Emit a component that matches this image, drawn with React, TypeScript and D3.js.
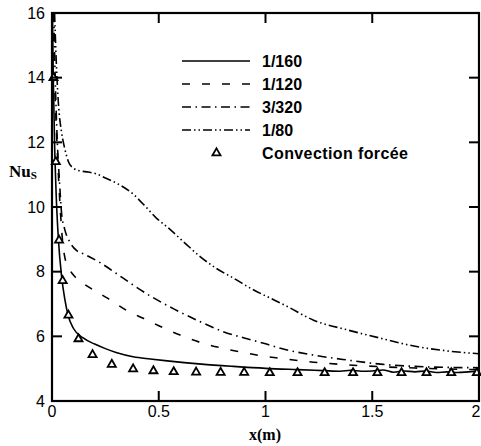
import React from "react";
import * as d3 from "d3";

type P = [number, number];

const xTicks = [0, 0.5, 1, 1.5, 2];
const xTickLabels = ["0", "0.5", "1", "1.5", "2"];
const yTicks = [4, 6, 8, 10, 12, 14, 16];
const yTickLabels = ["4", "6", "8", "10", "12", "14", "16"];

const seriesNames = ["1/160", "1/120", "3/320", "1/80"];
const markerName = "Convection forcée";

const s160: P[] = [
  [0.002, 16], [0.006, 14], [0.012, 12], [0.02, 10.3], [0.03, 9.0], [0.045, 7.85],
  [0.06, 7.15], [0.075, 6.66], [0.1, 6.25], [0.146, 5.95], [0.2, 5.76], [0.25, 5.62],
  [0.3, 5.5], [0.38, 5.37], [0.46, 5.3], [0.54, 5.24], [0.7, 5.14], [0.85, 5.07],
  [1.0, 5.01], [1.15, 4.97], [1.27, 4.94], [1.35, 4.92], [1.4, 4.95], [1.45, 4.92],
  [1.5, 4.93], [1.55, 4.96], [1.6, 4.89], [1.65, 4.93], [1.7, 4.9], [1.75, 4.93],
  [1.8, 4.88], [1.85, 4.9], [1.9, 4.88], [1.95, 4.9], [2.0, 4.92],
];

const s120: P[] = [
  [0.006, 16], [0.012, 14], [0.02, 12.5], [0.03, 11], [0.04, 9.8], [0.05, 8.9],
  [0.06, 8.45], [0.08, 8.1], [0.108, 7.84], [0.15, 7.62], [0.19, 7.45], [0.26, 7.18],
  [0.35, 6.8], [0.43, 6.55], [0.5, 6.33], [0.6, 6.04], [0.7, 5.8], [0.8, 5.63],
  [0.88, 5.52], [0.97, 5.41], [1.07, 5.32], [1.225, 5.2], [1.38, 5.12], [1.54, 5.06],
  [1.7, 5.02], [1.85, 4.99], [2.0, 4.97],
];

const s320: P[] = [
  [0.008, 16], [0.015, 14], [0.025, 12], [0.035, 10.8], [0.045, 9.8], [0.06, 9.3],
  [0.085, 8.9], [0.116, 8.65], [0.147, 8.55], [0.225, 8.28], [0.3, 7.95], [0.366, 7.65],
  [0.46, 7.25], [0.57, 6.85], [0.695, 6.45], [0.8, 6.15], [0.9, 5.95], [1.0, 5.77],
  [1.07, 5.63], [1.225, 5.42], [1.38, 5.27], [1.54, 5.14], [1.7, 5.07], [1.85, 5.04],
  [2.0, 5.03],
];

const s80: P[] = [
  [0.012, 16], [0.02, 14.5], [0.03, 13.2], [0.045, 12.3], [0.06, 11.8], [0.077, 11.4],
  [0.1, 11.2], [0.13, 11.12], [0.17, 11.08], [0.205, 11.03], [0.25, 10.9], [0.304, 10.73],
  [0.38, 10.4], [0.44, 10.0], [0.49, 9.65], [0.54, 9.38], [0.62, 8.9], [0.695, 8.46],
  [0.77, 8.1], [0.85, 7.8], [0.94, 7.45], [1.023, 7.18], [1.1, 6.93], [1.225, 6.5],
  [1.383, 6.2], [1.54, 5.94], [1.695, 5.7], [1.85, 5.55], [2.0, 5.46],
];

const forced: P[] = [
  [0.007, 14.0], [0.018, 11.4], [0.033, 8.97], [0.05, 7.72], [0.077, 6.65], [0.124, 5.92],
  [0.19, 5.43], [0.28, 5.13], [0.38, 4.99], [0.475, 4.93], [0.57, 4.9], [0.675, 4.89],
  [0.79, 4.88], [0.9, 4.88], [1.02, 4.87], [1.15, 4.87], [1.277, 4.87], [1.41, 4.87],
  [1.524, 4.87], [1.637, 4.87], [1.754, 4.87], [1.87, 4.87], [1.99, 4.87],
];

const seriesData = [s160, s120, s320, s80];
const dashes = ["", "8,12", "9,4.5,1.5,4.5", "9,3,1.5,3,1.5,3"];

const L = 52, R = 479, T = 13, B = 401;

export default function App() {
  const x = d3.scaleLinear().domain([0, 2]).range([L, R]);
  const y = d3.scaleLinear().domain([4, 16]).range([B, T]);
  const line = d3
    .line<P>()
    .x((d) => x(d[0]))
    .y((d) => y(d[1]))
    .curve(d3.curveMonotoneX);
  const tri = d3.symbol().type(d3.symbolTriangle).size(28)();

  const legX1 = 182, legX2 = 250, legTX = 262;
  const legY = [61, 84, 107, 130, 153];

  return (
    <svg
      width={481}
      height={446}
      style={{ position: "absolute", left: 0, top: 0, background: "#fff" }}
      fontFamily="Liberation Sans, Arial, sans-serif"
    >
      <defs>
        <clipPath id="plot">
          <rect x={L} y={T} width={R - L} height={B - T} />
        </clipPath>
      </defs>
      <rect x={0} y={0} width={481} height={446} fill="#fff" />

      <g clipPath="url(#plot)">
        {seriesData.map((s, i) => (
          <path
            key={i}
            d={line(s) || ""}
            fill="none"
            stroke="#000"
            strokeWidth={1.6}
            strokeDasharray={dashes[i] || undefined}
          />
        ))}
      </g>
      {forced.map((d, i) => (
        <path
          key={i}
          d={tri || ""}
          transform={`translate(${x(d[0])},${y(d[1])})`}
          fill="#fff"
          stroke="#000"
          strokeWidth={1.8}
        />
      ))}

      {/* frame */}
      <rect x={L} y={T} width={R - L} height={B - T} fill="none" stroke="#000" strokeWidth={2.2} />

      {/* ticks */}
      {xTicks.map((t, i) => (
        <g key={"xt" + i}>
          {i > 0 && i < xTicks.length - 1 && (
            <>
              <line x1={x(t)} x2={x(t)} y1={B} y2={B - 10} stroke="#000" strokeWidth={2} />
              <line x1={x(t)} x2={x(t)} y1={T} y2={T + 10} stroke="#000" strokeWidth={2} />
            </>
          )}
          <text
            x={Math.min(x(t), 476)}
            y={417}
            textAnchor="middle"
            fontSize={16}
            fill="#000"
          >
            {xTickLabels[i]}
          </text>
        </g>
      ))}
      {yTicks.map((t, i) => (
        <g key={"yt" + i}>
          {i > 0 && i < yTicks.length - 1 && (
            <>
              <line x1={L} x2={L + 10} y1={y(t)} y2={y(t)} stroke="#000" strokeWidth={2} />
              <line x1={R} x2={R - 10} y1={y(t)} y2={y(t)} stroke="#000" strokeWidth={2} />
            </>
          )}
          <text x={45} y={y(t)} dy="0.36em" textAnchor="end" fontSize={16} fill="#000">
            {yTickLabels[i]}
          </text>
        </g>
      ))}

      {/* axis titles */}
      <text x={265} y={440} textAnchor="middle" fontFamily="Liberation Serif, Times New Roman, serif" fontWeight="bold" fontSize={16}>
        x(m)
      </text>
      <text x={9} y={177} fontFamily="Liberation Serif, Times New Roman, serif" fontWeight="bold" fontSize={17}>
        Nu
        <tspan fontSize={11} dy={2}>S</tspan>
      </text>

      {/* legend */}
      {seriesNames.map((n, i) => (
        <g key={"lg" + i}>
          <line
            x1={legX1}
            x2={legX2}
            y1={legY[i]}
            y2={legY[i]}
            stroke="#000"
            strokeWidth={1.6}
            strokeDasharray={dashes[i] || undefined}
          />
          <text x={legTX} y={legY[i]} dy="0.36em" fontSize={16} fontWeight="bold">
            {n}
          </text>
        </g>
      ))}
      <path d={tri || ""} transform={`translate(216.5,${legY[4]})`} fill="#fff" stroke="#000" strokeWidth={1.8} />
      <text x={legTX} y={legY[4]} dy="0.36em" fontSize={16} fontWeight="bold" letterSpacing={0.4}>
        {markerName}
      </text>
    </svg>
  );
}
